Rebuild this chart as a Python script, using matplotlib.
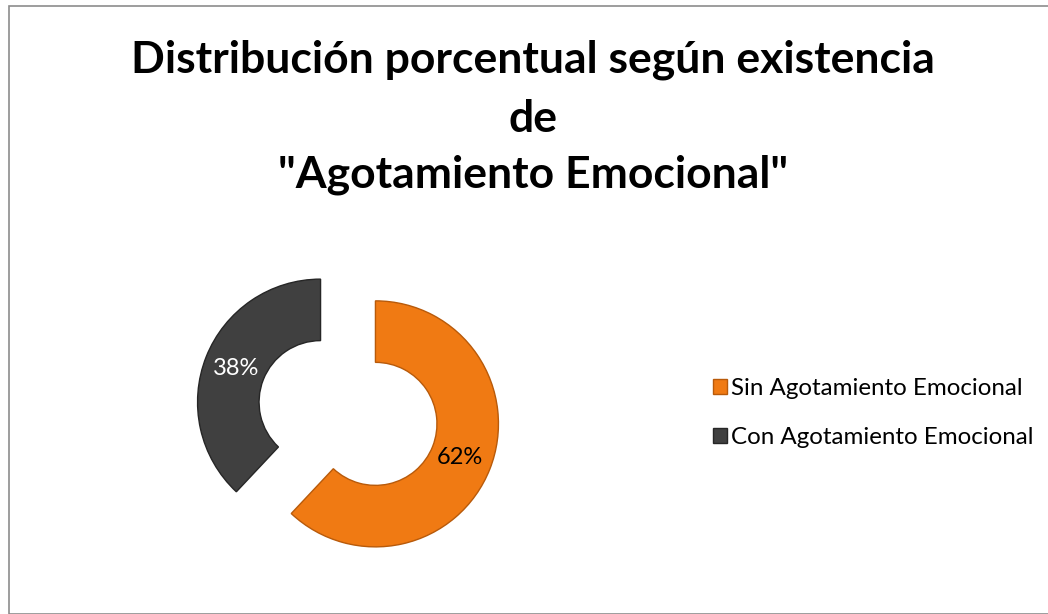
import matplotlib
matplotlib.use('Agg')
from matplotlib import pyplot as plt
from matplotlib.patches import Rectangle, Patch

# Daten
kategorien = ['Sin Agotamiento Emocional', 'Con Agotamiento Emocional']
prozente = [62, 38]
farben = ['#F07A13', '#404040']
randfarben = ['#B85A0A', '#262626']
textfarben = ['black', 'white']

plt.rcParams['font.family'] = ['Lato', 'DejaVu Sans']

fig = plt.figure(figsize=(10.48, 6.14), dpi=100)

# Rahmen um das Diagramm
fig.patches.append(Rectangle((8.5 / 1048, 0), 1.2, (614 - 5.5) / 614, transform=fig.transFigure,
                             fill=False, edgecolor='#8c8c8c', linewidth=1.2))

# Titel
fig.text(533 / 1048, 1 - 60 / 614, 'Distribución porcentual según existencia',
         ha='center', va='center', fontsize=32, fontweight='bold')
fig.text(533 / 1048, 1 - 119 / 614, 'de',
         ha='center', va='center', fontsize=32, fontweight='bold')
fig.text(533 / 1048, 1 - 175 / 614, '"Agotamiento Emocional"',
         ha='center', va='center', fontsize=32, fontweight='bold')

# Ring-Diagramm
r_px = 123
ax = fig.add_axes([(348 - 1.5 * r_px) / 1048, (614 - 413 - 1.5 * r_px) / 614,
                   3 * r_px / 1048, 3 * r_px / 614])
wedges, texte, autotexte = ax.pie(prozente, colors=farben, startangle=90, counterclock=False,
                                  explode=[0.24, 0.24], radius=1,
                                  autopct='%1.0f%%', pctdistance=0.74,
                                  wedgeprops=dict(width=0.5, linewidth=1),
                                  textprops=dict(fontsize=17))
for w, rc in zip(wedges, randfarben):
    w.set_edgecolor(rc)
for t, tc in zip(autotexte, textfarben):
    t.set_color(tc)
ax.set_xlim(-1.5, 1.5)
ax.set_ylim(-1.5, 1.5)
ax.set_aspect('equal')
ax.axis('off')

# Legende
handles = [Patch(facecolor=f, edgecolor=rc) for f, rc in zip(farben, randfarben)]
fig.legend(handles, kategorien, loc='center left', bbox_to_anchor=(691 / 1048, 1 - 413 / 614),
           frameon=False, fontsize=17.4, handlelength=0.6, handleheight=0.6,
           handletextpad=0.15, labelspacing=1.15)

plt.savefig('out.png', dpi=100)
